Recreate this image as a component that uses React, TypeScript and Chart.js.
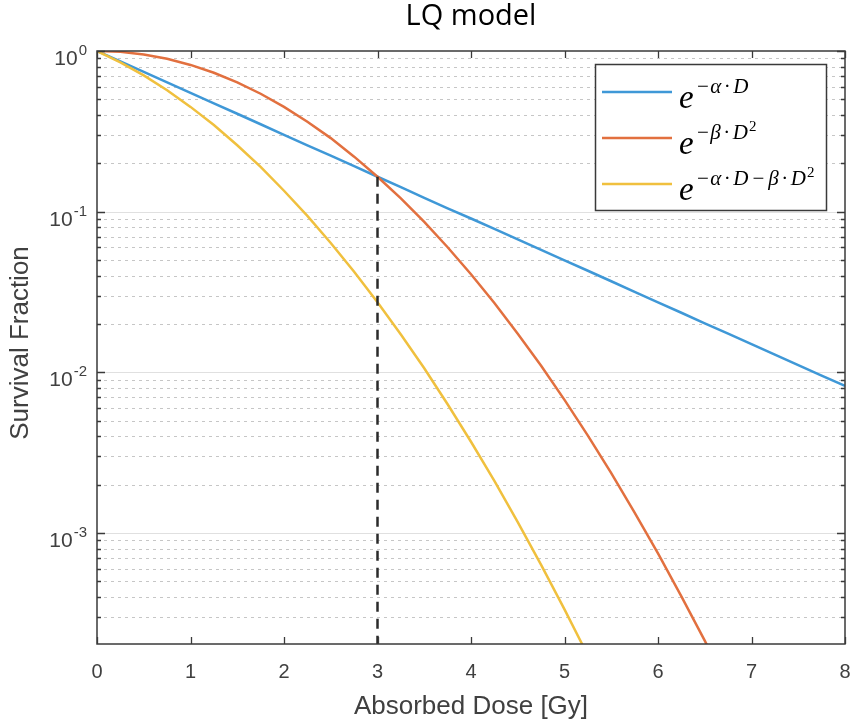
import { useEffect, useRef } from "react";
import { Chart, registerables } from "chart.js";

Chart.register(...registerables);

// ---- data ----
const doses = [0, 0.25, 0.5, 0.75, 1, 1.25, 1.5, 1.75, 2, 2.25, 2.5, 2.75, 3, 3.25, 3.5, 3.75, 4, 4.25, 4.5, 4.75, 5, 5.25, 5.5, 5.75, 6, 6.25, 6.5, 6.75, 7, 7.25, 7.5, 7.75, 8];
const linearSurvival = [1, 0.861, 0.741, 0.638, 0.549, 0.472, 0.407, 0.35, 0.301, 0.259, 0.223, 0.192, 0.165, 0.142, 0.122, 0.105, 0.0907, 0.0781, 0.0672, 0.0578, 0.0498, 0.0429, 0.0369, 0.0317, 0.0273, 0.0235, 0.0202, 0.0174, 0.015, 0.0129, 0.0111, 0.00956, 0.00823];
const quadraticSurvival = [1, 0.988, 0.951, 0.894, 0.819, 0.732, 0.638, 0.542, 0.449, 0.363, 0.287, 0.22, 0.165, 0.121, 0.0863, 0.0601, 0.0408, 0.027, 0.0174, 0.011, 0.00674, 0.00404, 0.00236, 0.00134, 0.000747, 0.000404, 0.000214, 0.00011, 0.000055];
const lqSurvival = [1, 0.85, 0.705, 0.57, 0.449, 0.346, 0.259, 0.19, 0.135, 0.0942, 0.0639, 0.0423, 0.0273, 0.0172, 0.0106, 0.00633, 0.0037, 0.00211, 0.00117, 0.000634, 0.000335, 0.000173, 0.000087];
const crossDose = [3, 3];
const crossSurvival = [0.165, 0.0001];
const xTickValues = [0, 1, 2, 3, 4, 5, 6, 7, 8];
const yDecadeExponents = [0, -1, -2, -3];
const yMin = 0.000204;
const yMax = 1;
const xMin = 0;
const xMax = 8;
const chartTitle = "LQ model";
const xTitle = "Absorbed Dose [Gy]";
const yTitle = "Survival Fraction";
// legend labels: e^{...}; tokens of the exponent, "^2" marks a squared term
const legendExponents = [
  ["\u2212", "\u03B1", "\u00B7", "D"],
  ["\u2212", "\u03B2", "\u00B7", "D", "^2"],
  ["\u2212", "\u03B1", "\u00B7", "D", "\u2212", "\u03B2", "\u00B7", "D", "^2"],
];

const COLORS = ["#3f98d7", "#e2703f", "#f0c03e"];
const AXIS_COLOR = "#3a3a3a";
const TEXT_COLOR = "#404040";
const SANS = '"Liberation Sans", Arial, sans-serif';
const SERIF = '"Liberation Serif", "DejaVu Serif", serif';

function pts(xs: number[], ys: number[]) {
  return ys.map((v, i) => ({ x: xs[i], y: v }));
}

const decorPlugin = {
  id: "decor",
  beforeDatasetsDraw(chart: any) {
    const { ctx, chartArea } = chart;
    const { left, right } = chartArea;
    const y = chart.scales.y;
    ctx.save();
    ctx.lineWidth = 1;
    ctx.strokeStyle = "#c6c6c6";
    ctx.setLineDash([3, 4]);
    for (let e = -4; e <= 0; e++) {
      for (let m = 2; m <= 9; m++) {
        const v = m * Math.pow(10, e);
        if (v <= yMin * 1.02 || v >= yMax) continue;
        const py = Math.round(y.getPixelForValue(v)) + 0.5;
        ctx.beginPath();
        ctx.moveTo(left, py);
        ctx.lineTo(right, py);
        ctx.stroke();
      }
    }
    ctx.setLineDash([]);
    ctx.strokeStyle = "#e0e0e0";
    for (const ex of yDecadeExponents) {
      const v = Math.pow(10, ex);
      if (v >= yMax) continue;
      const py = Math.round(y.getPixelForValue(v)) + 0.5;
      ctx.beginPath();
      ctx.moveTo(left, py);
      ctx.lineTo(right, py);
      ctx.stroke();
    }
    ctx.restore();
  },
  afterDatasetsDraw(chart: any) {
    const { ctx, chartArea } = chart;
    const { left, right, top, bottom } = chartArea;
    const x = chart.scales.x;
    const y = chart.scales.y;
    ctx.save();
    ctx.strokeStyle = AXIS_COLOR;
    ctx.lineWidth = 1.5;
    ctx.setLineDash([]);
    ctx.strokeRect(left, top, right - left, bottom - top);
    ctx.lineWidth = 1.3;
    for (const t of xTickValues) {
      const px = Math.round(x.getPixelForValue(t)) + 0.5;
      ctx.beginPath();
      ctx.moveTo(px, bottom);
      ctx.lineTo(px, bottom - 7);
      ctx.moveTo(px, top);
      ctx.lineTo(px, top + 7);
      ctx.stroke();
    }
    for (let e = -4; e <= 0; e++) {
      for (let m = 1; m <= 9; m++) {
        const v = m * Math.pow(10, e);
        if (v < yMin || v > yMax) continue;
        const len = m === 1 ? 8 : 4;
        const py = Math.round(y.getPixelForValue(v)) + 0.5;
        ctx.beginPath();
        ctx.moveTo(left, py);
        ctx.lineTo(left + len, py);
        ctx.moveTo(right, py);
        ctx.lineTo(right - len, py);
        ctx.stroke();
      }
    }
    // x tick labels
    ctx.fillStyle = TEXT_COLOR;
    ctx.font = `20px ${SANS}`;
    ctx.textAlign = "center";
    ctx.textBaseline = "middle";
    for (const t of xTickValues) {
      ctx.fillText(String(t), x.getPixelForValue(t), 672);
    }
    // y tick labels 10^e
    for (const ex of yDecadeExponents) {
      const py = y.getPixelForValue(Math.pow(10, ex));
      ctx.font = `15px ${SANS}`;
      const expStr = ex === 0 ? "0" : "-" + String(-ex);
      const ew = ctx.measureText(expStr).width;
      ctx.font = `21px ${SANS}`;
      const bw = ctx.measureText("10").width;
      const rightEdge = 87;
      ctx.textAlign = "left";
      ctx.textBaseline = "alphabetic";
      ctx.fillText("10", rightEdge - ew - bw - 1, py + 14);
      ctx.font = `15px ${SANS}`;
      ctx.fillText(expStr, rightEdge - ew, py + 4);
    }
    // axis titles
    ctx.font = `26px ${SANS}`;
    ctx.textAlign = "center";
    ctx.textBaseline = "middle";
    ctx.fillText(xTitle, (left + right) / 2, 707);
    ctx.save();
    ctx.translate(21, 343);
    ctx.rotate(-Math.PI / 2);
    ctx.fillText(yTitle, 0, 0);
    ctx.restore();
    // title
    ctx.fillStyle = "#000";
    ctx.font = `29px "Open Sans", ${SANS}`;
    ctx.fillText(chartTitle, (left + right) / 2, 17);

    // legend
    const bx = 595.5, by = 64.5, bw = 231, bh = 146;
    ctx.fillStyle = "#fff";
    ctx.fillRect(bx, by, bw, bh);
    ctx.strokeStyle = AXIS_COLOR;
    ctx.lineWidth = 1.5;
    ctx.strokeRect(bx, by, bw, bh);
    const rowY = [92, 138, 184];
    legendExponents.forEach((tokens, i) => {
      const ly = rowY[i];
      ctx.strokeStyle = COLORS[i];
      ctx.lineWidth = 2.4;
      ctx.beginPath();
      ctx.moveTo(602, ly);
      ctx.lineTo(672, ly);
      ctx.stroke();
      ctx.fillStyle = "#000";
      ctx.textAlign = "left";
      ctx.textBaseline = "alphabetic";
      ctx.font = `italic 33px ${SERIF}`;
      ctx.fillText("e", 679, ly + 16);
      let cx = 697;
      tokens.forEach((tk, j) => {
        if (tk === "^2") {
          ctx.font = `15px ${SERIF}`;
          ctx.fillText("2", cx + 1, ly - 7);
          cx += ctx.measureText("2").width + 1;
          return;
        }
        const isMinus = tk === "\u2212";
        const isDot = tk === "\u00B7";
        ctx.font = isMinus || isDot ? `21px ${SERIF}` : `italic 21px ${SERIF}`;
        const binary = (isMinus && j > 0) || isDot;
        const gap = isDot ? 2.5 : 4;
        if (binary) cx += gap;
        ctx.fillText(tk, cx, ly + 1);
        cx += ctx.measureText(tk).width;
        if (binary) cx += gap;
        else if (isMinus) cx += 1.5;
      });
    });
    ctx.restore();
  },
};

export default function App() {
  const canvasRef = useRef<HTMLCanvasElement | null>(null);
  useEffect(() => {
    document.body.style.margin = "0";
    const canvas = canvasRef.current;
    if (!canvas) return;
    const chart = new Chart(canvas, {
      type: "line",
      data: {
        datasets: [
          {
            label: "linear",
            data: pts(doses, linearSurvival),
            borderColor: COLORS[0],
            borderWidth: 2.5,
            pointRadius: 0,
            fill: false,
            order: 3,
          },
          {
            label: "quadratic",
            data: pts(doses, quadraticSurvival),
            borderColor: COLORS[1],
            borderWidth: 2.5,
            pointRadius: 0,
            fill: false,
            order: 2,
          },
          {
            label: "lq",
            data: pts(doses, lqSurvival),
            borderColor: COLORS[2],
            borderWidth: 2.5,
            pointRadius: 0,
            fill: false,
            order: 1,
          },
          {
            label: "cross",
            data: pts(crossDose, crossSurvival),
            borderColor: "#2b2b2b",
            borderWidth: 2.5,
            borderDash: [10, 7],
            pointRadius: 0,
            fill: false,
            order: 0,
          },
        ],
      },
      options: {
        animation: false,
        responsive: false,
        events: [],
        layout: { padding: { left: 0, right: 7, top: 51, bottom: 0 } },
        plugins: { legend: { display: false }, title: { display: false }, tooltip: { enabled: false } },
        scales: {
          x: {
            type: "linear",
            min: xMin,
            max: xMax,
            grid: { display: false },
            border: { display: false },
            ticks: { display: false },
            afterFit: (s: any) => {
              s.height = 82;
            },
          },
          y: {
            type: "logarithmic",
            min: yMin,
            max: yMax,
            grid: { display: false },
            border: { display: false },
            ticks: { display: false },
            afterFit: (s: any) => {
              s.width = 97;
            },
          },
        },
      },
      plugins: [decorPlugin],
    } as any);
    return () => chart.destroy();
  }, []);
  return (
    <div style={{ width: 852, height: 726, background: "#fff" }}>
      <canvas ref={canvasRef} width={852} height={726} />
    </div>
  );
}
